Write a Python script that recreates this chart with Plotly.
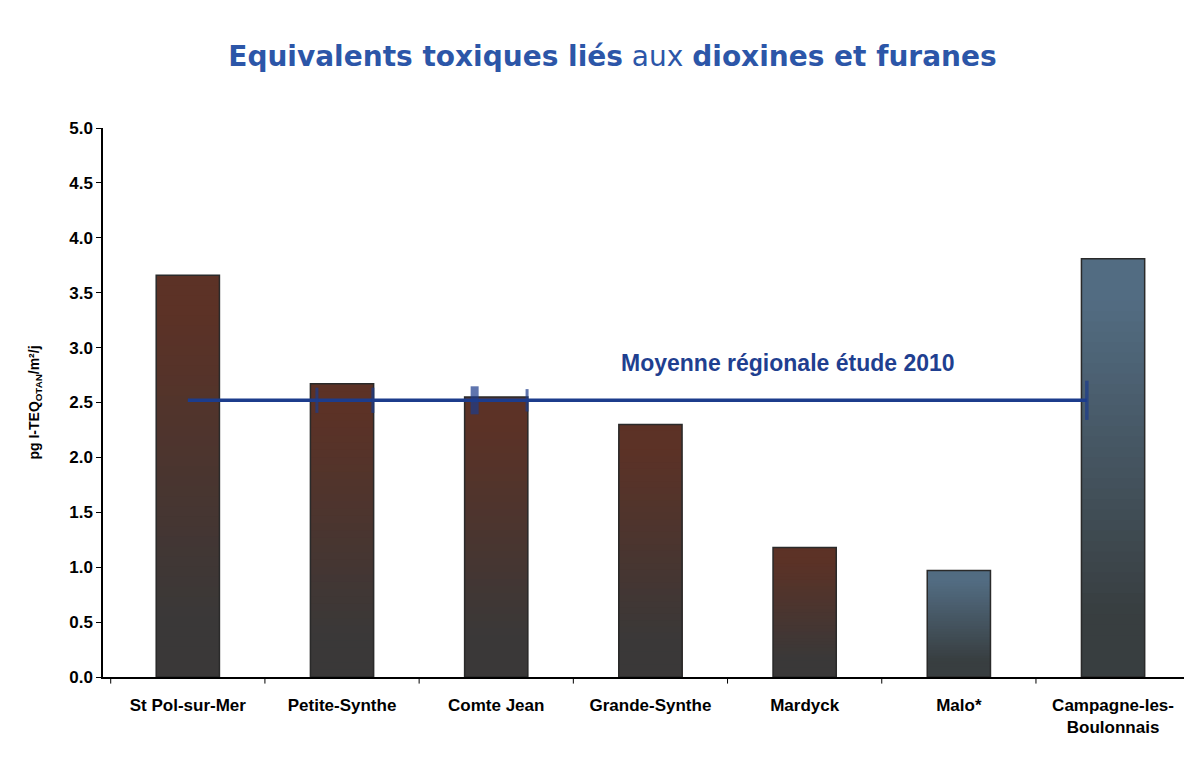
import plotly.graph_objects as go

categories = ["St Pol-sur-Mer", "Petite-Synthe", "Comte Jean", "Grande-Synthe",
              "Mardyck", "Malo*", "Campagne-les-<br>Boulonnais"]
values = [3.66, 2.67, 2.55, 2.30, 1.18, 0.97, 3.81]
group = ["brown", "brown", "brown", "brown", "brown", "blue", "blue"]
regional_mean = 2.52
mean_label = "Moyenne régionale étude 2010"
y_ticks = [0.0, 0.5, 1.0, 1.5, 2.0, 2.5, 3.0, 3.5, 4.0, 4.5, 5.0]

palettes = {
    "brown": ((92, 50, 38), (58, 56, 56)),
    "blue": ((82, 108, 130), (56, 62, 64)),
}

def mix(c1, c2, t):
    return "rgb(%d,%d,%d)" % tuple(round(a + (b - a) * t) for a, b in zip(c1, c2))

N = 40
fig = go.Figure()
xs = list(range(len(categories)))
# draw from tallest (top colour) to shortest (bottom colour) so no seams appear
for k in range(N - 1, -1, -1):
    t = 1 - (k + 0.5) / N
    t = min(1.0, max(0.0, (t - 0.1) / 0.75))
    colors = [mix(palettes[g][0], palettes[g][1], t) for g in group]
    fig.add_trace(go.Bar(
        x=xs, y=[v * (k + 1) / N for v in values],
        width=0.41, marker=dict(color=colors, line=dict(width=0)),
        showlegend=False, hoverinfo="skip"))

# outline
fig.add_trace(go.Bar(
    x=xs, y=values, width=0.41,
    marker=dict(color="rgba(0,0,0,0)", line=dict(color="#2a2a2a", width=1.5)),
    showlegend=False, hovertemplate="%{y}<extra></extra>"))

line_color = "#1c3c8c"
fig.add_trace(go.Scatter(
    x=[0, 5.83], y=[regional_mean, regional_mean], mode="lines",
    line=dict(color=line_color, width=3.5), showlegend=False, hoverinfo="skip"))
fig.add_trace(go.Scatter(
    x=[0.837, 1.2, 1.86, 2.2, 5.83], y=[regional_mean] * 5, mode="markers",
    marker=dict(symbol="line-ns", size=[18, 18, 20, 16, 28],
                line=dict(color=line_color, width=[3, 3, 8, 3, 3.5])),
    showlegend=False, hoverinfo="skip"))

fig.add_annotation(x=3.89, y=2.86, text="<b>%s</b>" % mean_label, showarrow=False,
                   font=dict(family="Liberation Sans, Arial", size=23, color="#1f3f90"))

fig.update_layout(
    width=1176, height=746,
    margin=dict(l=95, r=0, t=120, b=77),
    paper_bgcolor="white", plot_bgcolor="white",
    barmode="overlay",
    font=dict(family="Liberation Sans, Arial", color="black"),
    title=dict(text="<b>Equivalents toxiques liés</b> aux <b>dioxines et furanes</b>",
               x=0.514, xanchor="center", y=0.935, yanchor="middle",
               font=dict(family="DejaVu Sans", size=28, color="#2c56a8")),
    xaxis=dict(range=[-0.55, 6.46], tickmode="array", tickvals=xs,
               ticktext=["<b>%s</b>" % c for c in categories],
               showline=True, linecolor="black", linewidth=1.5, showgrid=False,
               ticks="", ticklabelstandoff=12,
               tickfont=dict(size=17, family="Liberation Sans, Arial"),
               zeroline=False),
    yaxis=dict(range=[0, 5.0], tickmode="array", tickvals=y_ticks,
               ticktext=["<b>%.1f</b>" % v for v in y_ticks],
               showline=True, linecolor="black", linewidth=1.5, showgrid=False,
               ticks="outside", ticklen=5, tickcolor="black",
               tickfont=dict(size=17, family="Liberation Sans, Arial"),
               title=dict(text="<b>pg I-TEQ<sub>OTAN</sub>/m²/j</b>", standoff=26,
                          font=dict(size=14)),
               zeroline=False),
)

# category separator ticks on the x axis
for i in range(len(categories) + 1):
    xb = i - 0.5
    fig.add_shape(type="line", xref="x", yref="paper", x0=xb, x1=xb, y0=0, y1=-0.012,
                  line=dict(color="black", width=1))

fig.write_html("out.html")
